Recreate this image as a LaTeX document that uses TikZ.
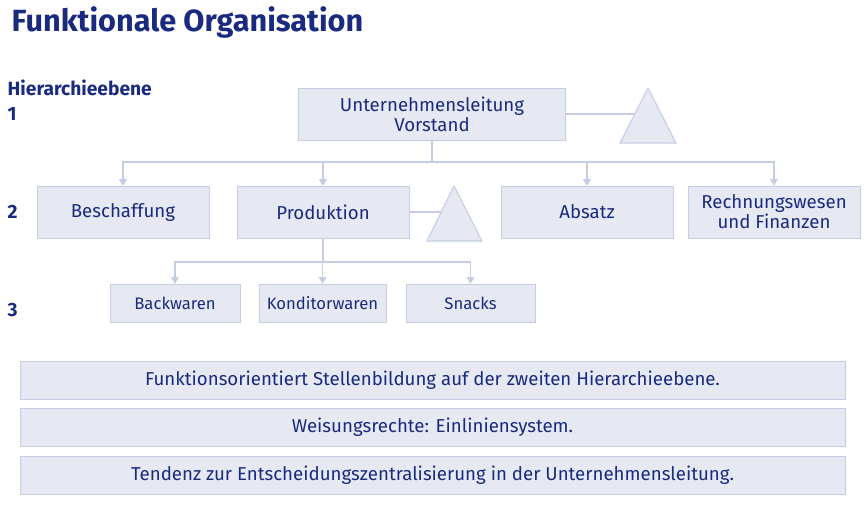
\documentclass[tikz,border=0pt]{standalone}
\usepackage{fontspec}
\setmainfont{Fira Sans}
\usetikzlibrary{arrows.meta}
\definecolor{boxfill}{HTML}{E6E9F2}
\definecolor{boxline}{HTML}{C5CDE4}
\definecolor{txt}{HTML}{1A2A80}
\tikzset{
  orgbox/.style = {draw = boxline, fill = boxfill, text = txt, align = center, font = \fontsize{14}{15}\selectfont},
  smallbox/.style = {orgbox, font = \fontsize{12.5}{14}\selectfont},
  conn/.style = {draw = boxline, thick},
  arr/.style = {conn, -{Triangle[length=5pt, width=6pt]}},
  level/.style = {text = txt, font = \bfseries\fontsize{14.4}{16}\selectfont, anchor = west}
}
\begin{document}
\begin{tikzpicture}[x = 0.75pt, y = -0.75pt]
\useasboundingbox (0, 0) rectangle (866, 516);
%\draw[very thin, color = gray](0, 0) grid (866, 516);
\node [text = txt, anchor = west, font = \bfseries\fontsize{23}{26}\selectfont] (title) at (7, 22) {Funktionale Organisation};
\node [level] (hier) at (3, 88) {Hierarchieebene};
\node [level] (l1) at (3, 114) {1};
\node [level] (l2) at (3, 212) {2};
\node [level] (l3) at (3, 310) {3};
% Ebene 1
\node [orgbox, minimum width = 267*0.75pt, minimum height = 52*0.75pt] (ul) at (432, 114) {Unternehmensleitung\\Vorstand};
\draw [conn, fill = boxfill] (648, 88) -- (676, 143) -- (620, 143) -- cycle;
\coordinate (t1) at (634, 114);
\draw [conn] (ul.east) -- (t1);
% Ebene 2
\node [orgbox, minimum width = 172*0.75pt, minimum height = 52*0.75pt] (besch) at (123, 212) {Beschaffung};
\node [orgbox, minimum width = 172*0.75pt, minimum height = 52*0.75pt] (prod) at (323, 212) {Produktion};
\node [orgbox, minimum width = 172*0.75pt, minimum height = 52*0.75pt] (absatz) at (587, 212) {Absatz};
\node [orgbox, minimum width = 172*0.75pt, minimum height = 52*0.75pt] (rw) at (774, 212) {Rechnungswesen\\und Finanzen};
\draw [conn, fill = boxfill] (454, 186) -- (482, 241) -- (427, 241) -- cycle;
\coordinate (t2) at (441, 212);
\draw [conn] (prod.east) -- (t2);
\coordinate (bus1) at (432, 162);
\draw [conn] (ul.south) -- (bus1);
\foreach \n in {besch, prod, absatz, rw}
  \draw [arr] (bus1) -| (\n.north);
% Ebene 3
\node [smallbox, minimum width = 130*0.75pt, minimum height = 38*0.75pt] (back) at (175, 303) {Backwaren};
\node [smallbox, minimum width = 127*0.75pt, minimum height = 38*0.75pt] (kond) at (322.5, 303) {Konditorwaren};
\node [smallbox, minimum width = 129*0.75pt, minimum height = 38*0.75pt] (snack) at (470.5, 303) {Snacks};
\coordinate (bus2) at (323, 262);
\draw [conn] (prod.south) -- (bus2);
\foreach \n in {back, kond, snack}
  \draw [arr] (bus2) -| (\n.north);
% Merkmale
\node [orgbox, minimum width = 825*0.75pt, minimum height = 38*0.75pt] (m1) at (432.5, 380) {Funktionsorientiert Stellenbildung auf der zweiten Hierarchieebene.};
\node [orgbox, minimum width = 825*0.75pt, minimum height = 38*0.75pt] (m2) at (432.5, 427) {Weisungsrechte: Einliniensystem.};
\node [orgbox, minimum width = 825*0.75pt, minimum height = 38*0.75pt] (m3) at (432.5, 475) {Tendenz zur Entscheidungszentralisierung in der Unternehmensleitung.};
\end{tikzpicture}
\end{document}
